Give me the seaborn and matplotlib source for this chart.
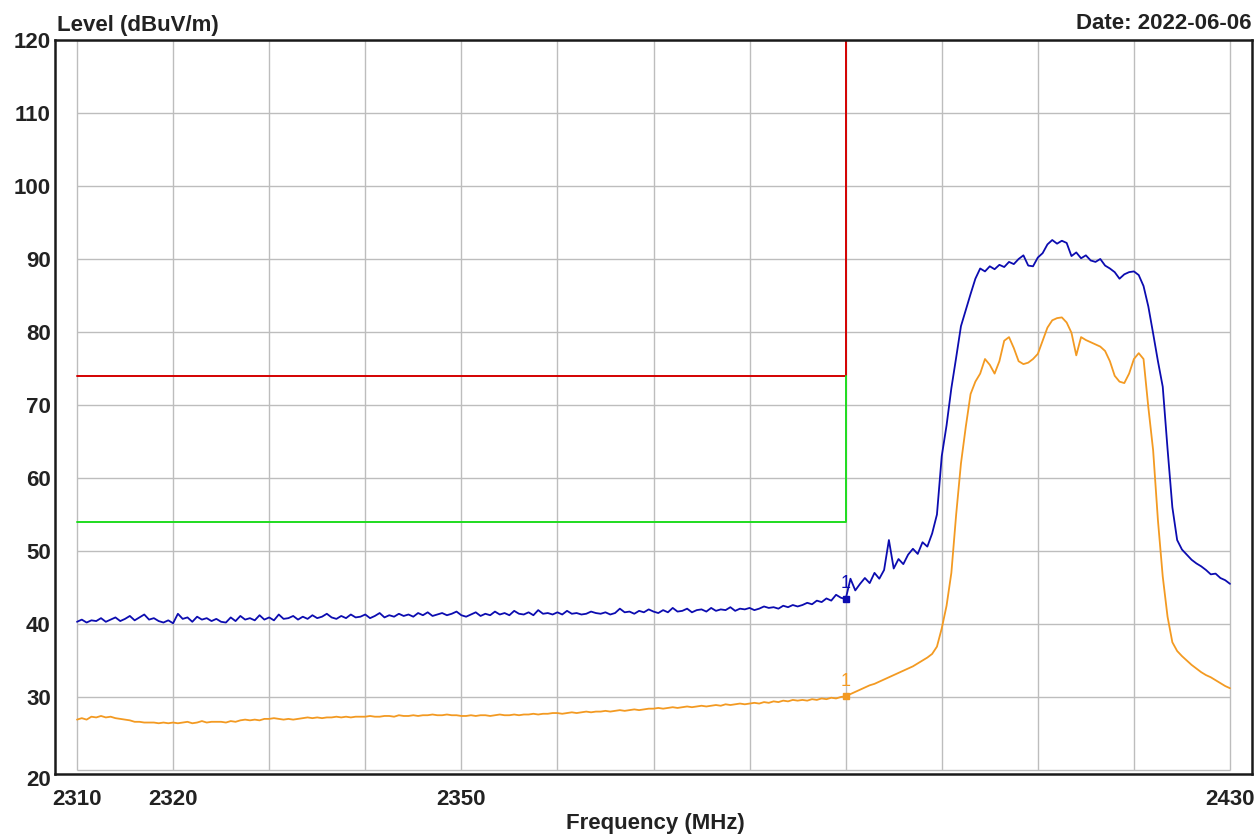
import numpy as np
import matplotlib
matplotlib.use("Agg")
import matplotlib.pyplot as plt
import seaborn as sns

# Frequency axis (MHz), 0.5 MHz steps
freq = np.arange(2310, 2430.01, 0.5)

# Peak trace (blue), dBuV/m
peak_level = [
    40.3, 40.6, 40.2, 40.5, 40.4, 40.8, 40.3, 40.6, 40.9, 40.4,
    40.7, 41.1, 40.5, 40.9, 41.3, 40.6, 40.8, 40.4, 40.2, 40.5,
    40.1, 41.4, 40.7, 40.9, 40.3, 41.0, 40.6, 40.8, 40.4, 40.7,
    40.3, 40.2, 40.9, 40.4, 41.1, 40.6, 40.8, 40.5, 41.2, 40.6,
    40.9, 40.5, 41.3, 40.7, 40.8, 41.1, 40.6, 41.0, 40.7, 41.2,
    40.8, 41.0, 41.4, 40.9, 40.7, 41.1, 40.8, 41.3, 40.9, 41.0,
    41.3, 40.8, 41.1, 41.5, 40.9, 41.2, 41.0, 41.4, 41.1, 41.3,
    41.0, 41.5, 41.2, 41.6, 41.1, 41.3, 41.5, 41.2, 41.4, 41.7,
    41.2, 41.0, 41.3, 41.6, 41.1, 41.4, 41.2, 41.7, 41.3, 41.5,
    41.2, 41.8, 41.4, 41.3, 41.6, 41.2, 41.9, 41.4, 41.5, 41.3,
    41.6, 41.3, 41.8, 41.4, 41.5, 41.3, 41.4, 41.7, 41.5, 41.4,
    41.6, 41.3, 41.5, 42.1, 41.6, 41.7, 41.4, 41.8, 41.6, 42.0,
    41.7, 41.5, 41.9, 41.6, 42.2, 41.7, 41.8, 42.1, 41.6, 41.9,
    42.0, 41.7, 42.2, 41.8, 42.0, 41.9, 42.3, 41.8, 42.1, 42.0,
    42.2, 41.9, 42.1, 42.4, 42.2, 42.3, 42.1, 42.5, 42.3, 42.6,
    42.4, 42.6, 42.9, 42.7, 43.2, 43.0, 43.5, 43.2, 44.0, 43.6,
    43.4, 46.2, 44.6, 45.5, 46.3, 45.6, 47.0, 46.2, 47.4, 51.5,
    47.6, 48.9, 48.2, 49.5, 50.3, 49.6, 51.2, 50.6, 52.4, 55.0,
    63.0, 67.2, 72.3, 76.5, 80.8, 83.0, 85.2, 87.3, 88.7, 88.3,
    89.0, 88.6, 89.2, 88.9, 89.6, 89.3, 90.0, 90.5, 89.1, 89.0,
    90.2, 90.8, 92.0, 92.6, 92.1, 92.5, 92.2, 90.4, 90.9, 90.1,
    90.5, 89.8, 89.6, 90.0, 89.1, 88.7, 88.2, 87.3, 87.9, 88.2,
    88.3, 87.8, 86.3, 83.5, 79.8, 76.0, 72.5, 64.0, 56.0, 51.5,
    50.2, 49.5, 48.8, 48.3, 47.9, 47.4, 46.8, 46.9, 46.3, 46.0,
    45.5,
]

# Average trace (orange), dBuV/m
avg_level = [
    26.9, 27.1, 26.9, 27.3, 27.2, 27.4, 27.2, 27.3, 27.1, 27.0,
    26.9, 26.8, 26.6, 26.6, 26.5, 26.5, 26.5, 26.4, 26.5, 26.4,
    26.5, 26.4, 26.5, 26.6, 26.4, 26.5, 26.7, 26.5, 26.6, 26.6,
    26.6, 26.5, 26.7, 26.6, 26.8, 26.9, 26.8, 26.9, 26.8, 27.0,
    27.0, 27.1, 27.0, 26.9, 27.0, 26.9, 27.0, 27.1, 27.2, 27.1,
    27.2, 27.1, 27.2, 27.2, 27.3, 27.2, 27.3, 27.2, 27.3, 27.3,
    27.3, 27.4, 27.3, 27.3, 27.4, 27.4, 27.3, 27.5, 27.4, 27.4,
    27.5, 27.4, 27.5, 27.5, 27.6, 27.5, 27.5, 27.6, 27.5, 27.5,
    27.4, 27.4, 27.5, 27.4, 27.5, 27.5, 27.4, 27.5, 27.6, 27.5,
    27.5, 27.6, 27.5, 27.6, 27.6, 27.7, 27.6, 27.7, 27.7, 27.8,
    27.8, 27.7, 27.8, 27.9, 27.8, 27.9, 28.0, 27.9, 28.0, 28.0,
    28.1, 28.0, 28.1, 28.2, 28.1, 28.2, 28.3, 28.2, 28.3, 28.4,
    28.4, 28.5, 28.4, 28.5, 28.6, 28.5, 28.6, 28.7, 28.6, 28.7,
    28.8, 28.7, 28.8, 28.9, 28.8, 29.0, 28.9, 29.0, 29.1, 29.0,
    29.1, 29.2, 29.1, 29.3, 29.2, 29.4, 29.3, 29.5, 29.4, 29.6,
    29.5, 29.6, 29.5, 29.7, 29.6, 29.8, 29.7, 29.9, 29.8, 30.0,
    30.1, 30.4, 30.7, 31.0, 31.3, 31.6, 31.8, 32.1, 32.4, 32.7,
    33.0, 33.3, 33.6, 33.9, 34.2, 34.6, 35.0, 35.4, 35.9, 36.9,
    39.4, 42.5, 47.0, 55.0, 62.0, 67.0, 71.5, 73.2, 74.3, 76.3,
    75.5, 74.3, 76.0, 78.8, 79.3, 77.8, 76.0, 75.6, 75.8, 76.3,
    77.0, 78.8, 80.6, 81.6, 81.9, 82.0, 81.3, 79.9, 76.8, 79.3,
    78.9, 78.6, 78.3, 78.0, 77.4, 76.0, 74.0, 73.2, 73.0, 74.3,
    76.3, 77.1, 76.3, 69.7, 63.8, 54.2, 46.5, 41.0, 37.5, 36.3,
    35.6, 35.0, 34.4, 33.9, 33.4, 33.0, 32.7, 32.3, 31.9, 31.5,
    31.2,
]

# Limit lines
limit_freq = [2310, 2390, 2390]
peak_limit = [74, 74, 120]
avg_limit = [54, 54, 74]

# Marker 1
marker_freq = 2390
marker_peak = 43.4
marker_avg = 30.1

xticks = [2310, 2320, 2350, 2430]
yticks = list(range(20, 121, 10))
grid_x = list(range(2310, 2431, 10))

sns.set_style("white")
plt.rcParams["font.family"] = ["Liberation Sans", "DejaVu Sans"]

W, H = 1260, 836
fig = plt.figure(figsize=(W / 100, H / 100), dpi=100)
ax = fig.add_axes([55 / W, 1 - 774 / H, (1252 - 55) / W, (774 - 40) / H])

# grid only inside data range
ax.vlines(grid_x, 20, 120, color="#bdbdbd", linewidth=1.0, zorder=1)
ax.hlines(yticks, 2310, 2430, color="#bdbdbd", linewidth=1.0, zorder=1)

# limits
ax.plot(limit_freq, peak_limit, color="#d40000", linewidth=1.4, zorder=2)
ax.plot(limit_freq, avg_limit, color="#1fdc1f", linewidth=1.4, zorder=2)

# traces
sns.lineplot(x=freq, y=avg_level, ax=ax, color="#f39a22", linewidth=1.3, zorder=3)
sns.lineplot(x=freq, y=peak_level, ax=ax, color="#0c0cb0", linewidth=1.3, zorder=4)

# markers
ax.plot(marker_freq, marker_peak, marker="s", markersize=5, color="#0c0cb0", zorder=5)
ax.plot(marker_freq, marker_avg, marker="s", markersize=5, color="#f39a22", zorder=5)
ax.text(marker_freq, marker_peak + 1.0, "1", color="#0c0cb0", fontsize=13,
        ha="center", va="bottom", zorder=5)
ax.text(marker_freq, marker_avg + 0.8, "1", color="#f39a22", fontsize=13,
        ha="center", va="bottom", zorder=5)

ax.set_xlim(2307.71, 2432.29)
ax.set_ylim(19.45, 120)
ax.set_xticks(xticks)
ax.set_yticks(yticks)
ax.set_xticklabels([str(t) for t in xticks], fontsize=16, fontweight="bold", color="#222222")
ax.set_yticklabels([str(t) for t in yticks], fontsize=16, fontweight="bold", color="#222222")
ax.tick_params(axis="x", length=0, pad=11)
ax.tick_params(axis="y", length=0, pad=3)
ax.get_yticklabels()[0].set_va("top")
ax.set_xlabel("")
ax.set_ylabel("")
for s in ax.spines.values():
    s.set_visible(True)
    s.set_color("#1a1a1a")
    s.set_linewidth(1.8)

fig.text(57 / W, 1 - 31 / H, "Level (dBuV/m)", fontsize=16, fontweight="bold",
         color="#222222", ha="left", va="baseline")
fig.text(1251 / W, 1 - 29 / H, "Date: 2022-06-06", fontsize=16, fontweight="bold",
         color="#222222", ha="right", va="baseline")
fig.text(655 / W, 1 - 829 / H, "Frequency (MHz)", fontsize=16, fontweight="bold",
         color="#222222", ha="center", va="baseline")

fig.savefig("out.png", dpi=100)
